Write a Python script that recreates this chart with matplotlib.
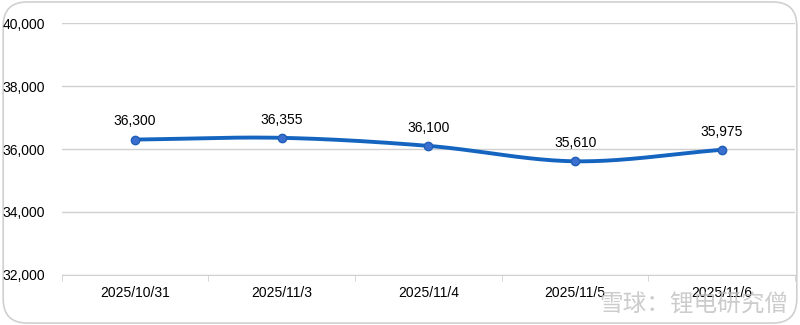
import numpy as np
import matplotlib.pyplot as plt
from matplotlib.patches import FancyBboxPatch

plt.rcParams['font.family'] = ['Liberation Sans', 'Noto Sans CJK SC', 'DejaVu Sans']

dates = ['2025/10/31', '2025/11/3', '2025/11/4', '2025/11/5', '2025/11/6']
prices = [36300, 36355, 36100, 35610, 35975]


def smooth(xs, ys, n=40):
  # catmull-rom, close to what excel draws for a "smoothed line"
  px = np.r_[2 * xs[0] - xs[1], xs, 2 * xs[-1] - xs[-2]]
  py = np.r_[2 * ys[0] - ys[1], ys, 2 * ys[-1] - ys[-2]]
  outx, outy = [], []
  t = np.linspace(0, 1, n)
  for i in range(1, len(px) - 2):
    for p, out in ((px, outx), (py, outy)):
      p0, p1, p2, p3 = p[i - 1], p[i], p[i + 1], p[i + 2]
      out.extend(0.5 * (2 * p1 + (-p0 + p2) * t + (2 * p0 - 5 * p1 + 4 * p2 - p3) * t ** 2
                        + (-p0 + 3 * p1 - 3 * p2 + p3) * t ** 3))
  return np.array(outx), np.array(outy)


fig = plt.figure(figsize=(8, 3.25), dpi=100)
fig.patches.append(FancyBboxPatch((0.004, 0.006), 0.992, 0.988, boxstyle='round,pad=0,rounding_size=0.03',
                                  transform=fig.transFigure, fc='white', ec='#d0d0d0', lw=1.2, zorder=-5,
                                  mutation_aspect=800 / 325))
ax = fig.add_axes([0.077, 0.154, 0.917, 0.775])
ax.set_facecolor('none')

x = np.arange(len(dates))
sx, sy = smooth(x.astype(float), np.array(prices, dtype=float))
ax.plot(sx, sy, color='#1565c0', lw=2.8, solid_capstyle='round', zorder=3)
ax.plot(x, prices, 'o', ms=6, mfc='#3b6fcf', mec='#1f5fb8', mew=1, zorder=4)
for xi, v in zip(x, prices):
  ax.annotate(f'{v:,}', (xi, v), xytext=(0, 8), textcoords='offset points', ha='center', va='bottom',
              fontsize=10, color='black')

ax.set_xlim(-0.5, len(dates) - 0.5)
ax.set_ylim(32000, 40000)
ax.set_yticks(np.arange(32000, 40001, 2000))
ax.yaxis.set_major_formatter(plt.FuncFormatter(lambda v, p: f'{int(v):,}'))
ax.grid(axis='y', color='#d0d0d0', lw=1)
ax.set_axisbelow(True)
ax.set_xticks(x)
ax.set_xticklabels(dates)
ax.set_xticks(np.arange(-0.5, len(dates)), minor=True)
ax.tick_params(axis='x', which='major', length=0, pad=8, labelsize=10)
ax.tick_params(axis='x', which='minor', length=4, color='#d0d0d0', direction='out')
ax.tick_params(axis='y', length=0, pad=12, labelsize=10)
for s in ['top', 'right', 'left']:
  ax.spines[s].set_visible(False)
ax.spines['bottom'].set_color('#d0d0d0')

fig.text(0.985, 0.025, '雪球：锂电研究僧', ha='right', va='bottom', fontsize=17, color='#c0c0c0',
         alpha=0.8, family=['Noto Sans CJK SC', 'DejaVu Sans'])

fig.savefig('out.png', dpi=100)
